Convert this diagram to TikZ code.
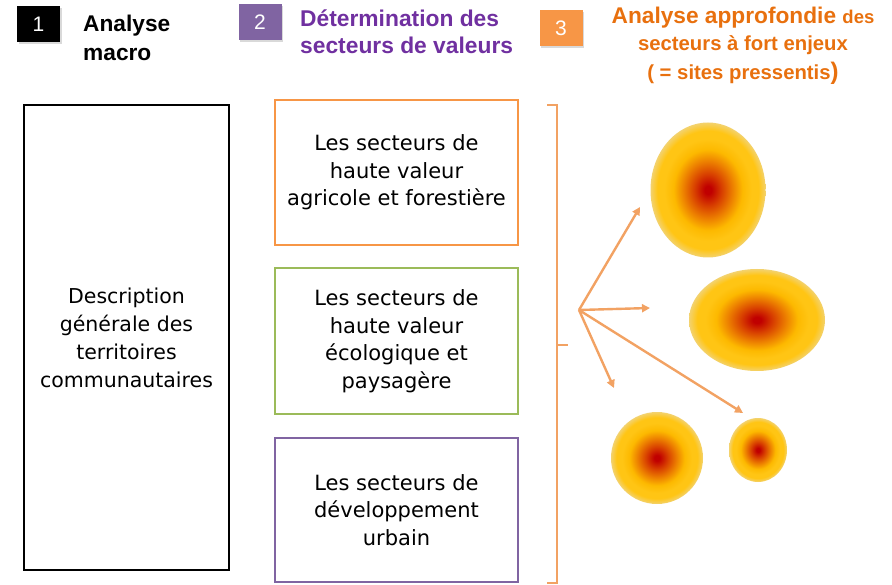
\documentclass[tikz,border=0pt]{standalone}
\usepackage{fontspec}
\setmainfont{DejaVu Sans}
\newfontfamily\headfont{Liberation Sans}
\usetikzlibrary{arrows.meta,shadows}

\definecolor{orangebox}{HTML}{F79646}
\definecolor{greenbox}{HTML}{9BBB59}
\definecolor{purplebox}{HTML}{8064A2}
\definecolor{purpletext}{HTML}{7030A0}
\definecolor{orangetext}{HTML}{E8700E}
\definecolor{linkcol}{HTML}{F2A263}
\definecolor{spotred}{HTML}{C00000}
\definecolor{spotmid}{HTML}{D84000}
\definecolor{spotorange}{HTML}{EE8400}
\definecolor{spotgold}{HTML}{FDB900}
\definecolor{spotyellow}{HTML}{FFC514}
\definecolor{spotedge}{HTML}{F3D26E}

% hot spot shading for the sites
\pgfdeclareradialshading{hotspot}{\pgfpoint{0bp}{0bp}}{%
  color(0bp)=(spotred); color(1.5bp)=(spotred); color(6bp)=(spotmid);
  color(11bp)=(spotorange); color(15bp)=(spotgold); color(19bp)=(spotyellow);
  color(22bp)=(spotyellow); color(25bp)=(spotedge); color(50bp)=(spotedge)}

\tikzset{
  badge/.style={minimum width=43pt, minimum height=36pt, inner sep=0pt,
    text=white, font=\headfont\fontsize{21}{21}\selectfont,
    drop shadow={shadow xshift=1.5pt, shadow yshift=-2.5pt, opacity=.3}},
  title/.style={font=\headfont\bfseries\fontsize{22.7}{29}\selectfont, inner sep=0pt},
  secteur/.style={draw=#1, text=black, line width=2pt, minimum width=243pt,
    minimum height=145pt, align=center, font=\fontsize{21}{27.5}\selectfont},
  link/.style={linkcol, line width=2.4pt, -{Triangle[length=8pt,width=8pt]}},
  site/.style={shading=hotspot}
}

\begin{document}
\begin{tikzpicture}[x=1pt, y=-1pt]
\useasboundingbox (0,0) rectangle (892,585);

% step headings
\node[badge, fill=black] (b1) at (38.5,24) {1};
\node[title, anchor=west, align=left] (t1) at (83,37.5) {Analyse\\macro};
\node[badge, fill=purplebox] (b2) at (260,22) {2};
\node[title, anchor=west, align=left, text=purpletext,
  font=\headfont\bfseries\fontsize{22.8}{27}\selectfont] (t2) at (300,31.5)
  {Détermination des\\secteurs de valeurs};
\node[badge, fill=orangebox] (b3) at (561,28) {3};
\node[title, align=center, text=orangetext] (t3) at (743,46)
  {Analyse approfondie {\fontsize{18.5}{18.5}\selectfont des}\\[-2pt]
   {\fontsize{20.3}{26}\selectfont secteurs à fort enjeux}\\
   {\fontsize{20.3}{26}\selectfont ( = sites pressentis{\fontsize{24}{24}\selectfont)}}};

% step 1
\node[draw, line width=2.5pt, minimum width=205pt, minimum height=465pt, align=center,
  font=\fontsize{20.5}{28}\selectfont] (macro) at (126.5,337.5)
  {Description\\générale des\\territoires\\communautaires};

% step 2
\node[secteur=orangebox] (agri) at (396.5,172.5)
  {Les secteurs de\\haute valeur\\agricole et forestière};
\node[secteur=greenbox, minimum height=146pt] (eco) at (396.5,341)
  {Les secteurs de\\haute valeur\\écologique et\\paysagère};
\node[secteur=purplebox, minimum height=144pt] (urb) at (396.5,510)
  {Les secteurs de\\développement\\urbain};

% bracket and arrows
\draw[linkcol, line width=2pt] (547,105) -- (557,105) -- (557,583) -- (547,583);
\draw[linkcol, line width=2pt] (557,345) -- (568,345);
\coordinate (hub) at (579,310);
\coordinate (e1) at (640,207);
\coordinate (e2) at (650,308);
\coordinate (e3) at (614,388);
\coordinate (e4) at (743,413);
\foreach \e in {e1,e2,e3,e4}
  \draw[link] (hub) -- (\e);

% step 3: sites
\shade[site] (708,190) ellipse [x radius=57.5pt, y radius=67.5pt];
\shade[site] (757,320) ellipse [x radius=68pt, y radius=51pt];
\shade[site] (657,458) circle [radius=46pt];
\shade[site] (758,450) ellipse [x radius=29pt, y radius=32pt];
\end{tikzpicture}
\end{document}
